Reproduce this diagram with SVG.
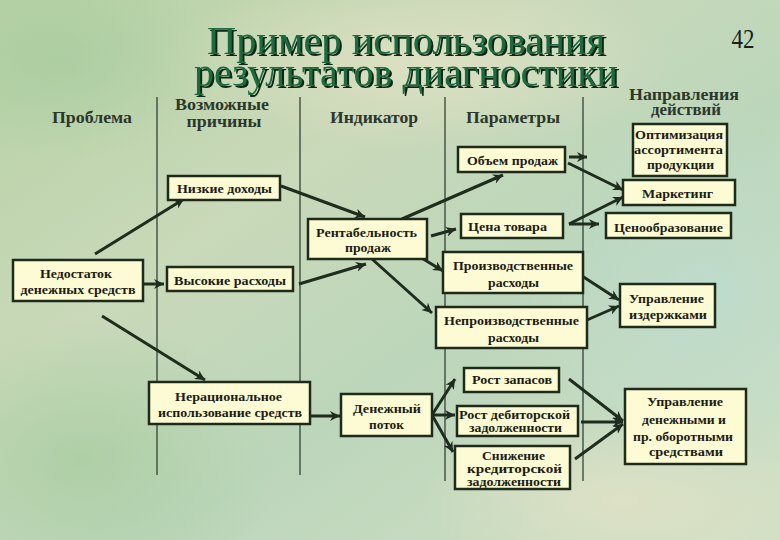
<svg xmlns="http://www.w3.org/2000/svg" width="780" height="540" viewBox="0 0 780 540">
<defs>
  <linearGradient id="bg" x1="0" y1="0" x2="1" y2="1">
    <stop offset="0" stop-color="#b6d1a4"/>
    <stop offset="0.35" stop-color="#c9d9b9"/>
    <stop offset="0.6" stop-color="#bcd6bb"/>
    <stop offset="1" stop-color="#d3e0c6"/>
  </linearGradient>
  <radialGradient id="glow1" cx="0.5" cy="0.5" r="0.5">
    <stop offset="0" stop-color="#e2e2c6" stop-opacity="0.8"/>
    <stop offset="1" stop-color="#e2e2c6" stop-opacity="0"/>
  </radialGradient>
  <radialGradient id="glow2" cx="0.5" cy="0.5" r="0.5">
    <stop offset="0" stop-color="#a6cc9e" stop-opacity="0.7"/>
    <stop offset="1" stop-color="#a6cc9e" stop-opacity="0"/>
  </radialGradient>
  <radialGradient id="glow3" cx="0.5" cy="0.5" r="0.5">
    <stop offset="0" stop-color="#bcdcd0" stop-opacity="0.7"/>
    <stop offset="1" stop-color="#bcdcd0" stop-opacity="0"/>
  </radialGradient>
  <filter id="shadow" x="-5%" y="-20%" width="110%" height="140%">
    <feDropShadow dx="2" dy="2" stdDeviation="0.3" flood-color="#0b2515" flood-opacity="1"/>
  </filter>
  <marker id="ah" markerUnits="userSpaceOnUse" markerWidth="12" markerHeight="10" refX="10" refY="5" orient="auto">
    <path d="M0,0 L10,5 L0,10 L3,5 Z" fill="#1f2d1f"/>
  </marker>
  <style>
    .box { fill: #fcfbd3; stroke: #1f2b1a; stroke-width: 2.5; }
    .bt { font-family: "Liberation Serif", "DejaVu Serif", serif; font-weight: bold; font-size: 13.5px; fill: #1c1c14; text-anchor: middle; }
    .sm { font-size: 12px; }
    .hd { font-family: "Liberation Serif", "DejaVu Serif", serif; font-weight: bold; font-size: 16px; fill: #2b372b; text-anchor: middle; }
    .ttl { font-family: "Liberation Serif", "DejaVu Serif", serif; font-size: 41px; text-anchor: middle; fill: #1d6b3d; filter: url(#shadow); }
    .vl { stroke: #27362a; stroke-width: 1.2; }
    .cn line { stroke: #1f2d1f; stroke-width: 3; marker-end: url(#ah); }
  </style>
</defs>

<!-- background -->
<rect x="0" y="0" width="780" height="540" fill="url(#bg)"/>
<ellipse cx="420" cy="60" rx="260" ry="90" fill="url(#glow1)"/>
<ellipse cx="80" cy="460" rx="200" ry="140" fill="url(#glow2)"/>
<ellipse cx="60" cy="60" rx="160" ry="100" fill="url(#glow2)"/>
<ellipse cx="700" cy="300" rx="180" ry="200" fill="url(#glow3)"/>
<ellipse cx="620" cy="500" rx="200" ry="80" fill="url(#glow1)"/>

<!-- title -->
<g id="title">
  <text class="ttl" x="406" y="54" textLength="398" lengthAdjust="spacingAndGlyphs">Пример использования</text>
  <text class="ttl" x="406" y="86" textLength="424" lengthAdjust="spacingAndGlyphs">результатов диагностики</text>
  <text x="743" y="48" font-family="Liberation Serif, serif" font-size="27" fill="#1a1f1a" text-anchor="middle" textLength="23" lengthAdjust="spacingAndGlyphs">42</text>
</g>

<!-- headers -->
<g id="headers">
  <text class="hd" x="92" y="123" textLength="80" lengthAdjust="spacingAndGlyphs">Проблема</text>
  <text class="hd" x="222" y="110" textLength="94" lengthAdjust="spacingAndGlyphs">Возможные</text>
  <text class="hd" x="224" y="127" textLength="75" lengthAdjust="spacingAndGlyphs">причины</text>
  <text class="hd" x="374" y="123" textLength="88" lengthAdjust="spacingAndGlyphs">Индикатор</text>
  <text class="hd" x="513" y="123" textLength="94" lengthAdjust="spacingAndGlyphs">Параметры</text>
  <text class="hd" x="684" y="100" textLength="110" lengthAdjust="spacingAndGlyphs">Направления</text>
  <text class="hd" x="686" y="115" textLength="70" lengthAdjust="spacingAndGlyphs">действий</text>
</g>

<!-- column separators -->
<g id="separators">
  <line class="vl" x1="157" y1="97" x2="157" y2="475"/>
  <line class="vl" x1="300" y1="97" x2="300" y2="475"/>
  <line class="vl" x1="445" y1="97" x2="445" y2="481"/>
  <line class="vl" x1="583" y1="97" x2="583" y2="481"/>
</g>

<!-- connectors -->
<g id="connectors" class="cn">
  <line x1="95" y1="254" x2="184" y2="199"/>
  <line x1="143" y1="284" x2="164" y2="284"/>
  <line x1="102" y1="316" x2="205" y2="380"/>
  <line x1="281" y1="186" x2="365" y2="217"/>
  <line x1="299" y1="284" x2="366" y2="264"/>
  <line x1="402" y1="219" x2="503" y2="175"/>
  <line x1="431" y1="236" x2="456" y2="229"/>
  <line x1="420" y1="257" x2="443" y2="271"/>
  <line x1="372" y1="259" x2="432" y2="313"/>
  <line x1="569" y1="157" x2="587" y2="157"/>
  <line x1="568" y1="163" x2="623" y2="190"/>
  <line x1="569" y1="224" x2="623" y2="197"/>
  <line x1="569" y1="224" x2="599" y2="224"/>
  <line x1="582" y1="276" x2="619" y2="300"/>
  <line x1="587" y1="320" x2="619" y2="306"/>
  <line x1="310" y1="416" x2="340" y2="416"/>
  <line x1="432" y1="415" x2="455" y2="379"/>
  <line x1="432" y1="415" x2="455" y2="415"/>
  <line x1="432" y1="415" x2="453" y2="452"/>
  <line x1="569" y1="379" x2="623" y2="421"/>
  <line x1="581" y1="422" x2="623" y2="422"/>
  <line x1="575" y1="459" x2="623" y2="424"/>
</g>

<!-- nodes -->
<g id="n-nedostatok">
  <rect class="box" x="13" y="260" width="130" height="41"/>
  <text class="bt" x="76" y="278" textLength="72" lengthAdjust="spacingAndGlyphs">Недостаток</text>
  <text class="bt" x="78" y="294" textLength="115" lengthAdjust="spacingAndGlyphs">денежных средств</text>
</g>
<g id="n-nizkie">
  <rect class="box" x="168" y="176" width="112" height="24"/>
  <text class="bt" x="224.5" y="193" textLength="95" lengthAdjust="spacingAndGlyphs">Низкие доходы</text>
</g>
<g id="n-vysokie">
  <rect class="box" x="167" y="267" width="126" height="24"/>
  <text class="bt" x="230" y="285" textLength="112" lengthAdjust="spacingAndGlyphs">Высокие расходы</text>
</g>
<g id="n-neracion">
  <rect class="box" x="149" y="382" width="161" height="42"/>
  <text class="bt" x="228.5" y="401" textLength="107" lengthAdjust="spacingAndGlyphs">Нерациональное</text>
  <text class="bt" x="230" y="417" textLength="144" lengthAdjust="spacingAndGlyphs">использование средств</text>
</g>
<g id="n-rentab">
  <rect class="box" x="308" y="219" width="119" height="40"/>
  <text class="bt" x="366.5" y="237" textLength="101" lengthAdjust="spacingAndGlyphs">Рентабельность</text>
  <text class="bt" x="368" y="252" textLength="46" lengthAdjust="spacingAndGlyphs">продаж</text>
</g>
<g id="n-denpotok">
  <rect class="box" x="341" y="394" width="91" height="42"/>
  <text class="bt" x="387" y="413" textLength="68" lengthAdjust="spacingAndGlyphs">Денежный</text>
  <text class="bt" x="386.5" y="429" textLength="35" lengthAdjust="spacingAndGlyphs">поток</text>
</g>
<g id="n-obem">
  <rect class="box" x="458" y="147" width="107" height="25"/>
  <text class="bt" x="512.5" y="165" textLength="91" lengthAdjust="spacingAndGlyphs">Объем продаж</text>
</g>
<g id="n-cena">
  <rect class="box" x="461" y="214" width="102" height="24"/>
  <text class="bt" x="507.5" y="231" textLength="79" lengthAdjust="spacingAndGlyphs">Цена товара</text>
</g>
<g id="n-proizv">
  <rect class="box" x="443" y="252" width="140" height="41"/>
  <text class="bt" x="513" y="270" textLength="120" lengthAdjust="spacingAndGlyphs">Производственные</text>
  <text class="bt" x="513.5" y="287" textLength="51" lengthAdjust="spacingAndGlyphs">расходы</text>
</g>
<g id="n-neproizv">
  <rect class="box" x="436" y="307" width="151" height="41"/>
  <text class="bt" x="511.5" y="325" textLength="135" lengthAdjust="spacingAndGlyphs">Непроизводственные</text>
  <text class="bt" x="513.5" y="342" textLength="51" lengthAdjust="spacingAndGlyphs">расходы</text>
</g>
<g id="n-zapasy">
  <rect class="box" x="464" y="368" width="95" height="24"/>
  <text class="bt" x="512" y="384" textLength="80" lengthAdjust="spacingAndGlyphs">Рост запасов</text>
</g>
<g id="n-debitor">
  <rect class="box" x="457" y="406" width="121" height="30"/>
  <text class="bt sm" x="514.5" y="419" textLength="111" lengthAdjust="spacingAndGlyphs">Рост дебиторской</text>
  <text class="bt sm" x="515.5" y="432" textLength="93" lengthAdjust="spacingAndGlyphs">задолженности</text>
</g>
<g id="n-kreditor">
  <rect class="box" x="455" y="446" width="115" height="43"/>
  <text class="bt sm" x="513.5" y="460" textLength="63" lengthAdjust="spacingAndGlyphs">Снижение</text>
  <text class="bt sm" x="514.5" y="472.5" textLength="95" lengthAdjust="spacingAndGlyphs">кредиторской</text>
  <text class="bt sm" x="514" y="485.5" textLength="94" lengthAdjust="spacingAndGlyphs">задолженности</text>
</g>
<g id="n-optim">
  <rect class="box" x="633" y="124" width="94" height="52"/>
  <text class="bt" x="679" y="139" textLength="88" lengthAdjust="spacingAndGlyphs">Оптимизация</text>
  <text class="bt" x="678.5" y="154" textLength="89" lengthAdjust="spacingAndGlyphs">ассортимента</text>
  <text class="bt" x="680.5" y="169" textLength="67" lengthAdjust="spacingAndGlyphs">продукции</text>
</g>
<g id="n-marketing">
  <rect class="box" x="623" y="180" width="112" height="25"/>
  <text class="bt" x="677.5" y="198" textLength="71" lengthAdjust="spacingAndGlyphs">Маркетинг</text>
</g>
<g id="n-cenoobr">
  <rect class="box" x="606" y="213" width="125" height="25"/>
  <text class="bt" x="668.5" y="232" textLength="109" lengthAdjust="spacingAndGlyphs">Ценообразование</text>
</g>
<g id="n-izderzhki">
  <rect class="box" x="620" y="284" width="95" height="43"/>
  <text class="bt" x="666.5" y="303" textLength="75" lengthAdjust="spacingAndGlyphs">Управление</text>
  <text class="bt" x="668" y="319" textLength="78" lengthAdjust="spacingAndGlyphs">издержками</text>
</g>
<g id="n-denupr">
  <rect class="box" x="625" y="389" width="121" height="75"/>
  <text class="bt" x="685" y="406" textLength="76" lengthAdjust="spacingAndGlyphs">Управление</text>
  <text class="bt" x="684" y="424" textLength="84" lengthAdjust="spacingAndGlyphs">денежными и</text>
  <text class="bt" x="683" y="441" textLength="100" lengthAdjust="spacingAndGlyphs">пр. оборотными</text>
  <text class="bt" x="686" y="456" textLength="74" lengthAdjust="spacingAndGlyphs">средствами</text>
</g>
</svg>
